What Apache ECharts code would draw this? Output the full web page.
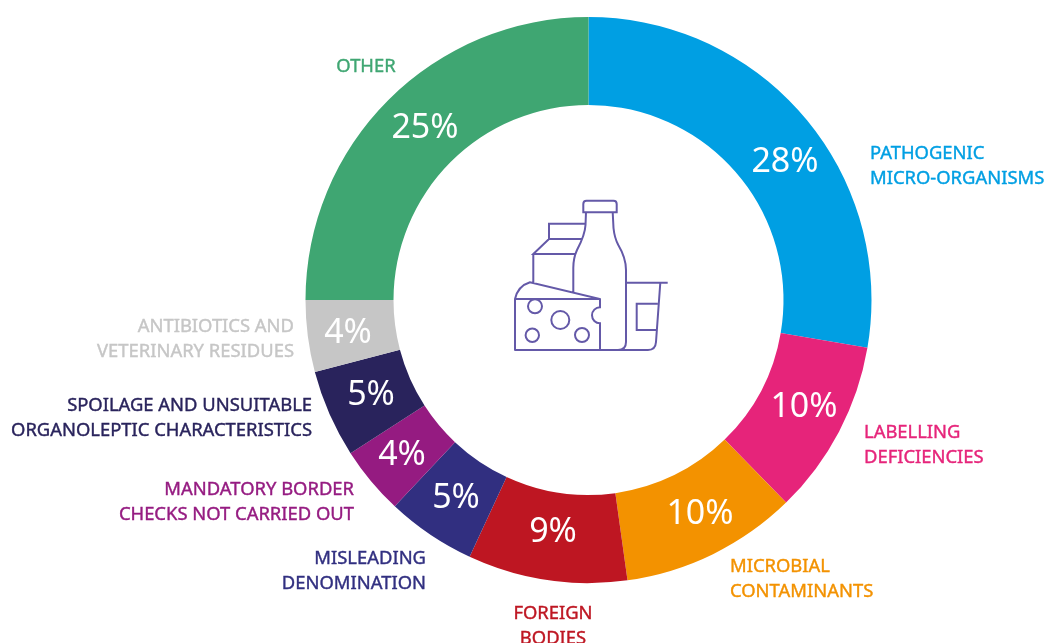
<!DOCTYPE html>
<html>
<head>
<meta charset="utf-8">
<title>Notifications by hazard</title>
<style>
  html, body { margin: 0; padding: 0; background: #fff; }
  #chart { width: 1044px; height: 643px; }
</style>
</head>
<body>
<div id="chart"></div>
<script src="https://cdn.jsdelivr.net/npm/echarts@6/dist/echarts.min.js"></script>
<script>
const categories = [
  'PATHOGENIC\nMICRO-ORGANISMS',
  'LABELLING\nDEFICIENCIES',
  'MICROBIAL\nCONTAMINANTS',
  'FOREIGN\nBODIES',
  'MISLEADING\nDENOMINATION',
  'MANDATORY BORDER\nCHECKS NOT CARRIED OUT',
  'SPOILAGE AND UNSUITABLE\nORGANOLEPTIC CHARACTERISTICS',
  'ANTIBIOTICS AND\nVETERINARY RESIDUES',
  'OTHER',
];
// shares as measured from the slice angles; labels show them rounded
const values = [27.7, 10, 10.1, 9.1, 5.1, 3.9, 5, 4.1, 25];
const colors = ['#009fe3', '#e6247a', '#f39200', '#be1622', '#312f80', '#951b81', '#29235c', '#c6c6c6', '#3fa672'];

// where the texts sit on the page
const percentPos = [[785, 162], [804, 407], [700, 514], [553, 532], [456, 498], [402, 455], [371, 395], [348, 333], [425, 128]];
const namePos = [
  [870, 166.5, 'left'], [864, 445.5, 'left'], [730, 579.5, 'left'], [553, 626.5, 'center'], [426, 571.5, 'right'],
  [354, 502.5, 'right'], [312, 418.5, 'right'], [294, 339.5, 'right'], [366, 66.5, 'center'],
];

const fontFamily = '"Noto Sans", sans-serif';

// milk, cheese and yoghurt icon in the middle of the ring
const iconPath = [
  // bottle
  'M586.5 200.7H613.5Q616.7 200.7 616.7 204V212.3H583.3V204Q583.3 200.7 586.5 200.7Z',
  'M586 212.3L585.5 225Q585 235 577 250Q573.3 258 573.3 268V292.7',
  'M612.7 212.3L613.5 228Q614.5 238 618.3 245Q626 258 626 270V342Q626 350 618 350',
  // carton
  'M585 223.7H549V239H582.7M549 239L533.3 254H576M533.3 254V284',
  // cheese
  'M515 350V299Q518 286 530 282.3L600 299V307.3A8 8 0 0 0 600 323.3V350M515 299H600M514.3 350H650',
  'M542 306.3A7 7 0 1 1 528 306.3A7 7 0 1 1 542 306.3Z',
  'M569.3 320A9 9 0 1 1 551.3 320A9 9 0 1 1 569.3 320Z',
  'M539 335.3A6.7 6.7 0 1 1 525.6 335.3A6.7 6.7 0 1 1 539 335.3Z',
  'M589 335A7 7 0 1 1 575 335A7 7 0 1 1 589 335Z',
  // cup
  'M626 282.7H667.7M660.3 282.7L656 342Q655.5 350 648 350',
  'M657.7 303.7H636.7V330H656.5',
].join('');

const chart = echarts.init(document.getElementById('chart'), null, { renderer: 'canvas' });

chart.setOption({
  animation: false,
  series: [
    {
      type: 'pie',
      center: [588.5, 300],
      radius: [195, 283],
      startAngle: 90,
      silent: true,
      data: categories.map((name, i) => ({ name, value: values[i], itemStyle: { color: colors[i] } })),
      label: {
        show: true,
        position: 'inside',
        formatter: (params) => Math.round(params.value) + '%',
        color: '#fff',
        fontFamily,
        fontSize: 34,
        fontWeight: 400,
      },
      labelLine: { show: false },
      labelLayout: (params) => ({
        x: percentPos[params.dataIndex][0],
        y: percentPos[params.dataIndex][1],
        align: 'center',
        verticalAlign: 'middle',
      }),
    },
    {
      // second ring only carries the category names
      type: 'pie',
      center: [588.5, 300],
      radius: [195, 283],
      startAngle: 90,
      silent: true,
      itemStyle: { color: 'transparent' },
      data: categories.map((name, i) => ({
        name,
        value: values[i],
        label: { color: colors[i], align: namePos[i][2], textBorderColor: colors[i] },
      })),
      label: {
        show: true,
        position: 'inside',
        formatter: '{b}',
        fontFamily,
        fontSize: 18.4,
        lineHeight: 24.5,
        textBorderWidth: 0.4,
      },
      labelLine: { show: false },
      labelLayout: (params) => ({
        x: namePos[params.dataIndex][0],
        y: namePos[params.dataIndex][1],
        align: namePos[params.dataIndex][2],
        verticalAlign: 'middle',
      }),
    },
    {
      type: 'custom',
      coordinateSystem: 'none',
      silent: true,
      data: [0],
      renderItem: () => ({
        type: 'path',
        shape: { pathData: iconPath },
        style: { fill: 'none', stroke: '#6459a8', lineWidth: 2 },
      }),
    },
  ],
});
</script>
</body>
</html>
